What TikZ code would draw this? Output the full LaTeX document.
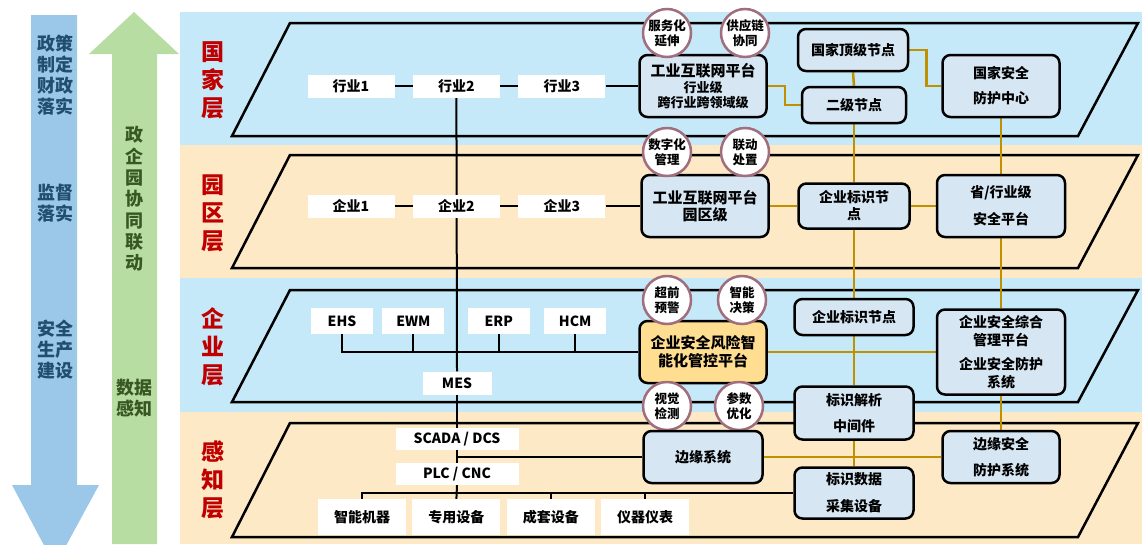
\documentclass[tikz,border=0pt]{standalone}
\usepackage{fontspec}
\setmainfont{Noto Sans CJK SC}
\usepackage{tikz}
\usetikzlibrary{positioning}
\pgfdeclarelayer{back}
\pgfdeclarelayer{wires}
\pgfsetlayers{back,wires,main}

\definecolor{bandblue}{RGB}{197,233,248}
\definecolor{bandyellow}{RGB}{253,233,198}
\definecolor{arrowblue}{RGB}{155,200,232}
\definecolor{arrowgreen}{RGB}{183,221,163}
\definecolor{textblue}{RGB}{31,78,110}
\definecolor{textgreen}{RGB}{56,87,35}
\definecolor{labelred}{RGB}{192,0,0}
\definecolor{boxblue}{RGB}{214,230,243}
\definecolor{boxorange}{RGB}{255,222,145}
\definecolor{tagrim}{RGB}{160,110,125}
\definecolor{gold}{RGB}{191,144,0}

\newcommand{\fs}[1]{\bfseries\fontsize{#1}{#1}\selectfont}

\begin{document}
\begin{tikzpicture}[x=1pt, y=-1pt,
    rowbox/.style={fill=white, draw=none, minimum width=87pt, minimum height=23pt, inner sep=0pt, font=\fs{14}},
    appbox/.style={fill=white, draw=none, minimum width=62pt, minimum height=26pt, inner sep=0pt, font=\fs{14}},
    devbox/.style={fill=white, draw=none, minimum width=88pt, minimum height=36pt, inner sep=0pt, font=\fs{14}},
    ctlbox/.style={fill=white, draw=none, minimum width=123pt, minimum height=22pt, inner sep=0pt, font=\fs{14}},
    platbox/.style={rounded corners=8pt, draw=black, line width=2.5pt, fill=boxblue, align=center, inner sep=2pt, minimum width=127pt, minimum height=62pt},
    nodebox/.style={rounded corners=8pt, draw=black, line width=2.5pt, fill=boxblue, align=center, inner sep=2pt, font=\fs{14}},
    tag/.style={circle, draw=tagrim, line width=2.5pt, fill=white, minimum size=48pt, inner sep=0pt, align=center, font=\bfseries\fontsize{12.5}{15}\selectfont},
    layername/.style={text=labelred, align=center, font=\bfseries\fontsize{23}{28}\selectfont},
    plane/.style={draw=black, line width=2.5pt},
    blackline/.style={draw=black, line width=2pt},
    goldline/.style={draw=gold, line width=2.5pt}]

    \useasboundingbox (0,0) rectangle (1142,544);
    \clip (0,0) rectangle (1142,544);

    %Background
    \begin{pgfonlayer}{back}
    \fill[bandblue] (180,12) rectangle (1142,145);
    \fill[bandyellow] (180,145) rectangle (1142,278);
    \fill[bandblue] (180,278) rectangle (1142,412);
    \fill[bandyellow] (180,412) rectangle (1142,544);
    \fill[arrowblue] (31,15) -- (77,15) -- (77,485) -- (99,485) -- (55,566) -- (12,485) -- (31,485) -- cycle;
    \fill[arrowgreen] (112,544) -- (112,54) -- (89,54) -- (134,12) -- (179,54) -- (157,54) -- (157,544) -- cycle;
    \draw[plane] (232,136) -- (290,23) -- (1138,23) -- (1078,136) -- cycle;
    \draw[plane] (232,268) -- (290,155) -- (1138,155) -- (1078,268) -- cycle;
    \draw[plane] (232,402) -- (290,290) -- (1138,290) -- (1078,402) -- cycle;
    \draw[plane] (232,537) -- (290,423) -- (1138,423) -- (1078,537) -- cycle;
    \end{pgfonlayer}

    %Side arrows text
    \node[text=textblue, align=center, font=\bfseries\fontsize{18}{21}\selectfont](policy) at (55,75) {政策\\制定\\财政\\落实};
    \node[text=textblue, align=center, font=\bfseries\fontsize{18}{21}\selectfont](supervise) at (55,203) {监督\\落实};
    \node[text=textblue, align=center, font=\bfseries\fontsize{18}{21}\selectfont](safety) at (55,350) {安全\\生产\\建设};
    \node[text=textgreen, align=center, font=\bfseries\fontsize{18}{21.3}\selectfont](linkage) at (134,199) {政\\企\\园\\协\\同\\联\\动};
    \node[text=textgreen, align=center, font=\bfseries\fontsize{18}{21}\selectfont](sensing) at (134,398) {数据\\感知};

    %Layer names
    \node[layername](nation) at (213,80) {国\\家\\层};
    \node[layername](park) at (213,213) {园\\区\\层};
    \node[layername](firm) at (213,347) {企\\业\\层};
    \node[layername](sense) at (213,480) {感\\知\\层};

    %Nodes - national layer
    \node[rowbox](hy1) at (351,86) {行业1};
    \node[rowbox](hy2)[right=18pt of hy1]{行业2};
    \node[rowbox](hy3)[right=18pt of hy2]{行业3};
    \node[platbox](ptf1) at (703,86) {{\fs{15}工业互联网平台}\\[2pt]{\fs{13}行业级}\\[1pt]{\fs{13}跨行业跨领域级}};
    \node[tag](fwh) at (667,33) {服务化\\延伸};
    \node[tag](gyl) at (745,33) {供应链\\协同};
    \node[nodebox, minimum width=110pt, minimum height=42pt](gjdj) at (853,50) {国家顶级节点};
    \node[nodebox, minimum width=104pt, minimum height=36pt](ejjd) at (854,105) {二级节点};
    \node[nodebox, minimum width=117pt, minimum height=62pt, font=\bfseries\fontsize{14}{25}\selectfont](aqzx) at (1001,86) {国家安全\\防护中心};

    %Nodes - park layer
    \node[rowbox](qy1) at (351,206) {企业1};
    \node[rowbox](qy2)[right=18pt of qy1]{企业2};
    \node[rowbox](qy3)[right=18pt of qy2]{企业3};
    \node[platbox, font=\bfseries\fontsize{15}{17}\selectfont](ptf2) at (705,206) {工业互联网平台\\园区级};
    \node[tag](szh) at (667,152) {数字化\\管理};
    \node[tag](ldcz) at (745,152) {联动\\处置};
    \node[nodebox, minimum width=111pt, minimum height=45pt, font=\bfseries\fontsize{14}{17}\selectfont](qybs2) at (854,206) {企业标识节\\点};
    \node[nodebox, minimum width=128pt, minimum height=62pt, font=\bfseries\fontsize{14}{27}\selectfont](shyj) at (1001,206) {省/行业级\\安全平台};

    %Nodes - enterprise layer
    \node[appbox](ehs) at (342,321) {EHS};
    \node[appbox](ewm)[right=9pt of ehs]{EWM};
    \node[appbox](erp)[right=23pt of ewm]{ERP};
    \node[appbox](hcm)[right=14pt of erp]{HCM};
    \node[appbox, minimum width=69pt, minimum height=23pt](mes) at (457,383) {MES};
    \node[platbox, fill=boxorange, font=\bfseries\fontsize{15}{18}\selectfont](risk) at (703,352) {企业安全风险智\\能化管控平台};
    \node[tag](cqyj) at (667,300) {超前\\预警};
    \node[tag](zncl) at (742,300) {智能\\决策};
    \node[nodebox, minimum width=119pt, minimum height=36pt](qybs3) at (854,317) {企业标识节点};
    \node[nodebox, minimum width=128pt, minimum height=85pt, font=\bfseries\fontsize{14}{18}\selectfont](zhgl) at (1001,352) {企业安全综合\\管理平台\\[6pt]企业安全防护\\系统};
    \node[tag](sjjc) at (667,406) {视觉\\检测};
    \node[tag](cshy) at (739,406) {参数\\优化};
    \node[nodebox, minimum width=119pt, minimum height=53pt, font=\bfseries\fontsize{14}{26}\selectfont](bsjx) at (854,413) {标识解析\\中间件};

    %Nodes - sensing layer
    \node[ctlbox](scada) at (457,439) {SCADA / DCS};
    \node[ctlbox](plc) at (457,474) {PLC / CNC};
    \node[devbox](znjq) at (362,517) {智能机器};
    \node[devbox](zysb)[right=6pt of znjq]{专用设备};
    \node[devbox](ccsb)[right=6pt of zysb]{成套设备};
    \node[devbox](yqyb)[right=6pt of ccsb]{仪器仪表};
    \node[nodebox, minimum width=119pt, minimum height=52pt](edge) at (703,457) {边缘系统};
    \node[nodebox, minimum width=119pt, minimum height=51pt, font=\bfseries\fontsize{14}{27}\selectfont](bsj) at (854,493) {标识数据\\采集设备};
    \node[nodebox, minimum width=117pt, minimum height=52pt, font=\bfseries\fontsize{14}{26}\selectfont](byaq) at (1001,457) {边缘安全\\防护系统};

    %Lines
    \begin{pgfonlayer}{wires}
    \draw[blackline] (hy1.east) -- (hy2.west);
    \draw[blackline] (hy2.east) -- (hy3.west);
    \draw[blackline] (hy3.east) -- (ptf1.west);
    \draw[blackline] (qy1.east) -- (qy2.west);
    \draw[blackline] (qy2.east) -- (qy3.west);
    \draw[blackline] (qy3.east) -- (ptf2.west);
    \draw[blackline] (hy2.south) -- (mes.north);
    \draw[blackline] (ehs.south) |- (risk.west);
    \draw[blackline] (ewm.south) -- (ewm.south |- risk.west);
    \draw[blackline] (erp.south) -- (erp.south |- risk.west);
    \draw[blackline] (hcm.south) -- (hcm.south |- risk.west);
    \draw[blackline] (mes.south) -- (scada.north);
    \draw[blackline] (scada.south) -- (plc.north);
    \draw[blackline] (edge.west) -- (edge.west -| scada.south);
    \draw[blackline] (plc.south) -- (zysb.north);
    \draw[blackline] (znjq.north) |- (bsj.west);
    \draw[blackline] (ccsb.north) -- (ccsb.north |- bsj.west);
    \draw[blackline] (yqyb.north) -- (yqyb.north |- bsj.west);

    \draw[goldline] (ptf1.east) -- ++(17,0) |- (ejjd.west);
    \draw[goldline] (gjdj.east) -- ++(17,0) |- (aqzx.west);
    \draw[goldline] (gjdj.south) -- (ejjd.north);
    \draw[goldline] (ejjd.south) -- (qybs2.north);
    \draw[goldline] (qybs2.south) -- (qybs3.north);
    \draw[goldline] (qybs3.south) -- (bsjx.north);
    \draw[goldline] (bsjx.south) -- (bsj.north);
    \draw[goldline] (aqzx.south) -- (shyj.north);
    \draw[goldline] (shyj.south) -- (zhgl.north);
    \draw[goldline] (zhgl.south) -- (byaq.north);
    \draw[goldline] (ptf2.east) -- (qybs2.west);
    \draw[goldline] (qybs2.east) -- (shyj.west);
    \draw[goldline] (risk.east) -- (zhgl.west);
    \draw[goldline] (edge.east) -- (byaq.west);
    \end{pgfonlayer}

\end{tikzpicture}
\end{document}
